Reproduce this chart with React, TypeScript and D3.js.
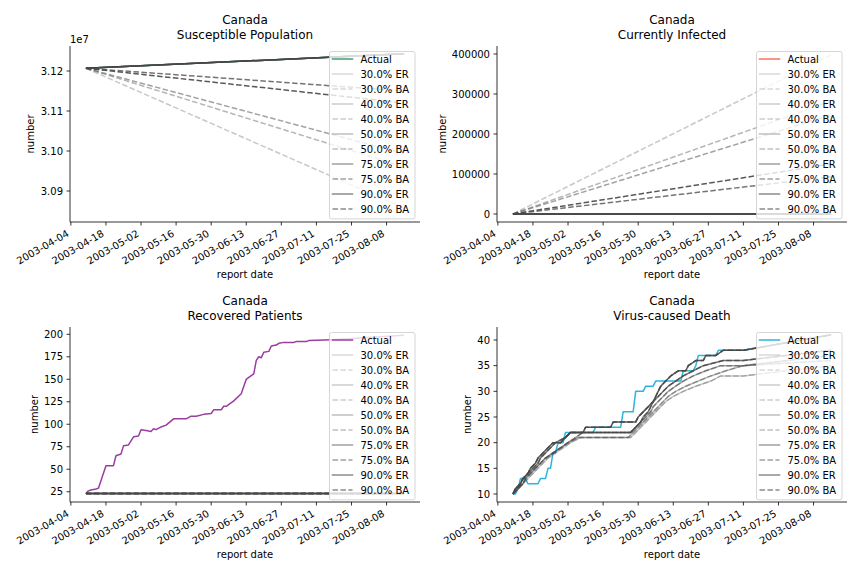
import React from 'react';
import * as d3 from 'd3';

// ---------------- data ----------------
const dataStart = '2003-04-10';
const dataEnd = '2003-08-15';
const xTickDates = ['2003-04-04', '2003-04-18', '2003-05-02', '2003-05-16', '2003-05-30', '2003-06-13', '2003-06-27', '2003-07-11', '2003-07-25', '2003-08-08'];
const scenarioPcts = [30, 40, 50, 75, 90];
const panelTitles = ['Susceptible Population', 'Currently Infected', 'Recovered Patients', 'Virus-caused Death'];
const countryName = 'Canada';
const actualColors = ['#3f9f74', '#f4765f', '#9a3d9f', '#2db5dc'];

// Susceptible population (straight model lines)
const susDates = ['2003-04-10', '2003-08-15'];
const susActual = [31206800, 31243000];
const susER = [[31206800, 31243000], [31206800, 31243000], [31206800, 31243000], [31206800, 31243000], [31206800, 31243000]];
const susBA = [[31206800, 30857000], [31206800, 30960000], [31206800, 30993000], [31206800, 31150000], [31206800, 31120000]];
const susTicks = [30900000, 31000000, 31100000, 31200000];

// Currently infected
const infDates = ['2003-04-10', '2003-08-15'];
const infActual = [200, 100];
const infER = [[200, 100], [200, 100], [200, 100], [200, 100], [200, 100]];
const infBA = [[200, 398000], [200, 282000], [200, 248000], [200, 93000], [200, 125000]];
const infTicks = [0, 100000, 200000, 300000, 400000];

// Recovered patients
const recActual: [string, number][] = [
  ['2003-04-10', 23], ['2003-04-11', 26], ['2003-04-12', 27], ['2003-04-14', 28], ['2003-04-15', 29],
  ['2003-04-18', 54], ['2003-04-21', 54], ['2003-04-22', 65], ['2003-04-24', 67], ['2003-04-25', 76],
  ['2003-04-27', 77], ['2003-04-29', 86], ['2003-05-01', 87], ['2003-05-02', 94], ['2003-05-04', 93],
  ['2003-05-06', 92], ['2003-05-07', 95], ['2003-05-08', 94], ['2003-05-10', 97], ['2003-05-12', 99],
  ['2003-05-15', 106], ['2003-05-20', 106], ['2003-05-22', 109], ['2003-05-24', 109], ['2003-05-27', 111],
  ['2003-05-30', 112], ['2003-05-31', 116], ['2003-06-03', 116], ['2003-06-04', 120], ['2003-06-05', 120],
  ['2003-06-08', 126], ['2003-06-11', 134], ['2003-06-13', 150], ['2003-06-14', 152], ['2003-06-16', 156],
  ['2003-06-17', 171], ['2003-06-18', 175], ['2003-06-19', 174], ['2003-06-20', 180], ['2003-06-22', 181],
  ['2003-06-23', 187], ['2003-06-25', 188], ['2003-06-26', 190], ['2003-06-28', 191], ['2003-07-02', 191],
  ['2003-07-03', 192], ['2003-07-07', 192], ['2003-07-08', 193], ['2003-07-17', 194], ['2003-08-15', 199],
];
const recModelDates = ['2003-04-10', '2003-08-15'];
const recModel = [23, 23];
const recTicks = [25, 50, 75, 100, 125, 150, 175, 200];

// Virus-caused deaths
const deathActual: [string, number][] = [
  ['2003-04-10', 10], ['2003-04-11', 10], ['2003-04-12', 11], ['2003-04-13', 13], ['2003-04-15', 13],
  ['2003-04-16', 12], ['2003-04-20', 12], ['2003-04-21', 13], ['2003-04-23', 13], ['2003-04-24', 15],
  ['2003-04-25', 15], ['2003-04-26', 18], ['2003-04-27', 18], ['2003-04-28', 20], ['2003-04-30', 20],
  ['2003-05-01', 22], ['2003-05-12', 22], ['2003-05-13', 23], ['2003-05-23', 23], ['2003-05-24', 26],
  ['2003-05-28', 26], ['2003-05-29', 30], ['2003-06-01', 30], ['2003-06-02', 31], ['2003-06-05', 31],
  ['2003-06-06', 32], ['2003-06-16', 32], ['2003-06-17', 34], ['2003-06-21', 34], ['2003-06-22', 35],
  ['2003-06-23', 37], ['2003-06-30', 37], ['2003-07-01', 38], ['2003-07-11', 38], ['2003-08-15', 41],
];
const death30: [string, number][] = [
  ['2003-04-10', 10], ['2003-04-12', 11], ['2003-04-14', 12], ['2003-04-16', 13], ['2003-04-18', 14],
  ['2003-04-20', 15], ['2003-04-22', 16], ['2003-04-24', 17], ['2003-04-27', 18], ['2003-04-30', 19],
  ['2003-05-03', 20], ['2003-05-07', 21], ['2003-05-27', 21], ['2003-05-29', 22], ['2003-05-31', 23],
  ['2003-06-02', 24], ['2003-06-04', 25], ['2003-06-06', 26], ['2003-06-08', 27], ['2003-06-10', 28],
  ['2003-06-13', 29], ['2003-06-17', 30], ['2003-06-22', 31], ['2003-06-28', 32], ['2003-07-02', 33],
  ['2003-07-11', 33], ['2003-08-15', 35],
];
const death40: [string, number][] = [
  ['2003-04-10', 10], ['2003-04-12', 11], ['2003-04-14', 12], ['2003-04-15', 13], ['2003-04-17', 14],
  ['2003-04-19', 15], ['2003-04-21', 16], ['2003-04-23', 17], ['2003-04-26', 18], ['2003-04-29', 19],
  ['2003-05-02', 20], ['2003-05-06', 21], ['2003-05-26', 21], ['2003-05-28', 22], ['2003-05-30', 23],
  ['2003-06-01', 24], ['2003-06-03', 25], ['2003-06-05', 26], ['2003-06-07', 27], ['2003-06-09', 28],
  ['2003-06-11', 29], ['2003-06-14', 30], ['2003-06-18', 31], ['2003-06-23', 32], ['2003-06-28', 33],
  ['2003-07-04', 34], ['2003-07-11', 35], ['2003-08-15', 36],
];
const death50: [string, number][] = [
  ['2003-04-10', 10], ['2003-04-12', 11], ['2003-04-14', 12], ['2003-04-15', 13], ['2003-04-17', 14],
  ['2003-04-19', 15], ['2003-04-21', 16], ['2003-04-23', 17], ['2003-04-26', 18], ['2003-04-29', 19],
  ['2003-05-02', 20], ['2003-05-05', 21], ['2003-05-08', 22], ['2003-05-27', 22], ['2003-05-29', 23],
  ['2003-05-31', 24], ['2003-06-02', 25], ['2003-06-04', 26], ['2003-06-05', 27], ['2003-06-07', 28],
  ['2003-06-09', 29], ['2003-06-11', 30], ['2003-06-14', 31], ['2003-06-17', 32], ['2003-06-21', 33],
  ['2003-06-26', 34], ['2003-07-02', 35], ['2003-07-11', 35], ['2003-08-15', 37],
];
const death75: [string, number][] = [
  ['2003-04-10', 10], ['2003-04-11', 11], ['2003-04-13', 12], ['2003-04-14', 13], ['2003-04-16', 14],
  ['2003-04-18', 15], ['2003-04-20', 16], ['2003-04-21', 17], ['2003-04-23', 18], ['2003-04-25', 19],
  ['2003-04-27', 20], ['2003-05-01', 21], ['2003-05-03', 22], ['2003-05-27', 22], ['2003-05-29', 23],
  ['2003-05-31', 24], ['2003-06-01', 25], ['2003-06-03', 26], ['2003-06-04', 27], ['2003-06-05', 28],
  ['2003-06-07', 29], ['2003-06-09', 30], ['2003-06-11', 31], ['2003-06-14', 32], ['2003-06-17', 33],
  ['2003-06-21', 34], ['2003-06-25', 35], ['2003-07-03', 36], ['2003-07-11', 36], ['2003-08-15', 38],
];
const death90: [string, number][] = [
  ['2003-04-10', 10], ['2003-04-11', 11], ['2003-04-13', 12], ['2003-04-14', 13], ['2003-04-16', 14],
  ['2003-04-17', 15], ['2003-04-19', 16], ['2003-04-20', 17], ['2003-04-22', 18], ['2003-04-24', 19],
  ['2003-04-26', 20], ['2003-04-29', 20], ['2003-05-01', 21], ['2003-05-03', 22], ['2003-05-08', 22],
  ['2003-05-09', 23], ['2003-05-19', 23], ['2003-05-20', 24], ['2003-05-29', 24], ['2003-05-30', 25],
  ['2003-06-01', 26], ['2003-06-03', 27], ['2003-06-05', 28], ['2003-06-06', 29], ['2003-06-07', 30],
  ['2003-06-08', 31], ['2003-06-10', 32], ['2003-06-12', 33], ['2003-06-15', 34], ['2003-06-18', 34],
  ['2003-06-19', 35], ['2003-06-22', 36], ['2003-06-25', 36], ['2003-06-26', 37], ['2003-06-30', 37],
  ['2003-07-03', 38], ['2003-07-11', 38], ['2003-08-15', 41],
];
const deathModels = [death30, death40, death50, death75, death90];
const deathTicks = [10, 15, 20, 25, 30, 35, 40];

// ---------------- helpers ----------------
const FONT = 'DejaVu Sans, Liberation Sans, sans-serif';
const parse = (s: string) => d3.utcParse('%Y-%m-%d')(s) as Date;
const MODEL_COLOR = '#464646';
const LEGEND_COLOR = '#808080';

type Pt = { d: Date; v: number };
type Series = { pts: Pt[]; color: string; opacity: number; dashed: boolean };

const zip = (dates: string[], vals: number[]): Pt[] => dates.map((d, i) => ({ d: parse(d), v: vals[i] }));
const pairs = (arr: [string, number][]): Pt[] => arr.map(([d, v]) => ({ d: parse(d), v }));

const charW = (c: string) => {
  if (/[0-9]/.test(c)) return 6.36;
  if (c === '.') return 3.18;
  if (c === '-') return 3.61;
  return 6.3;
};
const estWidth = (s: string) => s.split('').reduce((a, c) => a + charW(c), 0);

type PanelCfg = {
  left: number; top: number; width: number; height: number;
  title: string; yDomain: [number, number]; yTicks: number[];
  fmt: (v: number) => string; offsetText?: string;
  actualColor: string; actual: Pt[]; models: Series[];
};

function buildModels(get: (i: number, kind: 'ER' | 'BA') => Pt[]): Series[] {
  const out: Series[] = [];
  scenarioPcts.forEach((p, i) => {
    out.push({ pts: get(i, 'ER'), color: MODEL_COLOR, opacity: p / 100, dashed: false });
    out.push({ pts: get(i, 'BA'), color: MODEL_COLOR, opacity: p / 100, dashed: true });
  });
  return out;
}

const legendLabels = ['Actual', ...scenarioPcts.flatMap(p => [`${p.toFixed(1)}% ER`, `${p.toFixed(1)}% BA`])];

function Panel({ cfg }: { cfg: PanelCfg }) {
  const { left, top, width, height } = cfg;
  const right = left + width;
  const bottom = top + height;
  const s = parse(dataStart).getTime();
  const e = parse(dataEnd).getTime();
  const m = (e - s) * 0.05;
  const x = d3.scaleUtc().domain([new Date(s - m), new Date(e + m)]).range([left, right]);
  const y = d3.scaleLinear().domain(cfg.yDomain).range([bottom, top]);
  const line = d3.line<Pt>().x(p => x(p.d)).y(p => y(p.v));
  const tickLabels = cfg.yTicks.map(cfg.fmt);
  const maxW = Math.max(...tickLabels.map(estWidth));
  const yLabelX = left - 7 - maxW - 4 - 2.3;
  const cx = (left + right) / 2;

  const legW = 85.5, legH = 167.3;
  const legX = right - 5 - legW;
  const legY = top + 5.5;

  const legendItems = [
    { label: legendLabels[0], color: cfg.actualColor, opacity: 1, dashed: false },
    ...scenarioPcts.flatMap((p, i) => [
      { label: legendLabels[1 + i * 2], color: LEGEND_COLOR, opacity: p / 100, dashed: false },
      { label: legendLabels[2 + i * 2], color: LEGEND_COLOR, opacity: p / 100, dashed: true },
    ]),
  ];

  return (
    <g fontFamily={FONT}>
      <text x={cx} y={top - 22} textAnchor="middle" fontSize={12}>{countryName}</text>
      <text x={cx} y={top - 7.5} textAnchor="middle" fontSize={12}>{cfg.title}</text>
      {cfg.offsetText && <text x={left} y={top - 2.8} fontSize={10}>{cfg.offsetText}</text>}

      <path d={line(cfg.actual) || ''} fill="none" stroke={cfg.actualColor} strokeWidth={1.5} strokeLinejoin="round" />
      {cfg.models.map((sr, i) => (
        <path key={i} d={line(sr.pts) || ''} fill="none" stroke={sr.color} strokeOpacity={sr.opacity}
          strokeWidth={1.5} strokeLinejoin="round" strokeDasharray={sr.dashed ? '5.55 2.4' : undefined} />
      ))}

      {/* spines */}
      <line x1={left} x2={left} y1={top} y2={bottom} stroke="#000" strokeWidth={0.8} />
      <line x1={left} x2={right} y1={bottom} y2={bottom} stroke="#000" strokeWidth={0.8} />

      {/* y ticks */}
      {cfg.yTicks.map((t, i) => (
        <g key={i}>
          <line x1={left - 3.5} x2={left} y1={y(t)} y2={y(t)} stroke="#000" strokeWidth={0.8} />
          <text x={left - 7} y={y(t) + 3.6} textAnchor="end" fontSize={10}>{tickLabels[i]}</text>
        </g>
      ))}
      <text transform={`translate(${yLabelX},${(top + bottom) / 2}) rotate(-90)`} textAnchor="middle" fontSize={10}>number</text>

      {/* x ticks */}
      {xTickDates.map((t, i) => {
        const xx = x(parse(t));
        return (
          <g key={i}>
            <line x1={xx} x2={xx} y1={bottom} y2={bottom + 3.5} stroke="#000" strokeWidth={0.8} />
            <text transform={`translate(${xx - 1.2},${bottom + 13.6}) rotate(-30)`} textAnchor="end" fontSize={10}>{t}</text>
          </g>
        );
      })}
      <text x={cx} y={bottom + 56} textAnchor="middle" fontSize={10}>report date</text>

      {/* legend */}
      <g transform={`translate(${legX},${legY})`}>
        <rect x={0} y={0} width={legW} height={legH} rx={2} fill="#fff" fillOpacity={0.8} stroke="#cccccc" strokeWidth={0.8} />
        {legendItems.map((it, i) => {
          const cy = 7.5 + 15 * i;
          return (
            <g key={i}>
              <line x1={3} x2={23} y1={cy} y2={cy} stroke={it.color} strokeOpacity={it.opacity} strokeWidth={1.5}
                strokeLinecap={it.dashed ? 'butt' : 'square'} strokeDasharray={it.dashed ? '5.55 2.4' : undefined} />
              <text x={31} y={cy + 3.6} fontSize={10}>{it.label}</text>
            </g>
          );
        })}
      </g>
    </g>
  );
}

export default function App() {
  const panels: PanelCfg[] = [
    {
      left: 70, top: 46, width: 350, height: 176, title: panelTitles[0],
      yDomain: [30822500, 31262500], yTicks: susTicks, fmt: v => (v / 1e7).toFixed(2), offsetText: '1e7',
      actualColor: actualColors[0], actual: zip(susDates, susActual),
      models: buildModels((i, k) => zip(susDates, k === 'ER' ? susER[i] : susBA[i])),
    },
    {
      left: 497, top: 46, width: 350, height: 176, title: panelTitles[1],
      yDomain: [-20000, 420000], yTicks: infTicks, fmt: v => String(v),
      actualColor: actualColors[1], actual: zip(infDates, infActual),
      models: buildModels((i, k) => zip(infDates, k === 'ER' ? infER[i] : infBA[i])),
    },
    {
      left: 70, top: 327, width: 350, height: 175, title: panelTitles[2],
      yDomain: [13.6, 208.1], yTicks: recTicks, fmt: v => String(v),
      actualColor: actualColors[2], actual: pairs(recActual),
      models: buildModels(() => zip(recModelDates, recModel)),
    },
    {
      left: 497, top: 327, width: 350, height: 175, title: panelTitles[3],
      yDomain: [8.44, 42.53], yTicks: deathTicks, fmt: v => String(v),
      actualColor: actualColors[3], actual: pairs(deathActual),
      models: buildModels(i => pairs(deathModels[i])),
    },
  ];
  return (
    <svg width={864} height={576} viewBox="0 0 864 576" style={{ position: 'absolute', left: 0, top: 0, background: '#fff' }}>
      <rect width={864} height={576} fill="#fff" />
      {panels.map((p, i) => <Panel key={i} cfg={p} />)}
    </svg>
  );
}
